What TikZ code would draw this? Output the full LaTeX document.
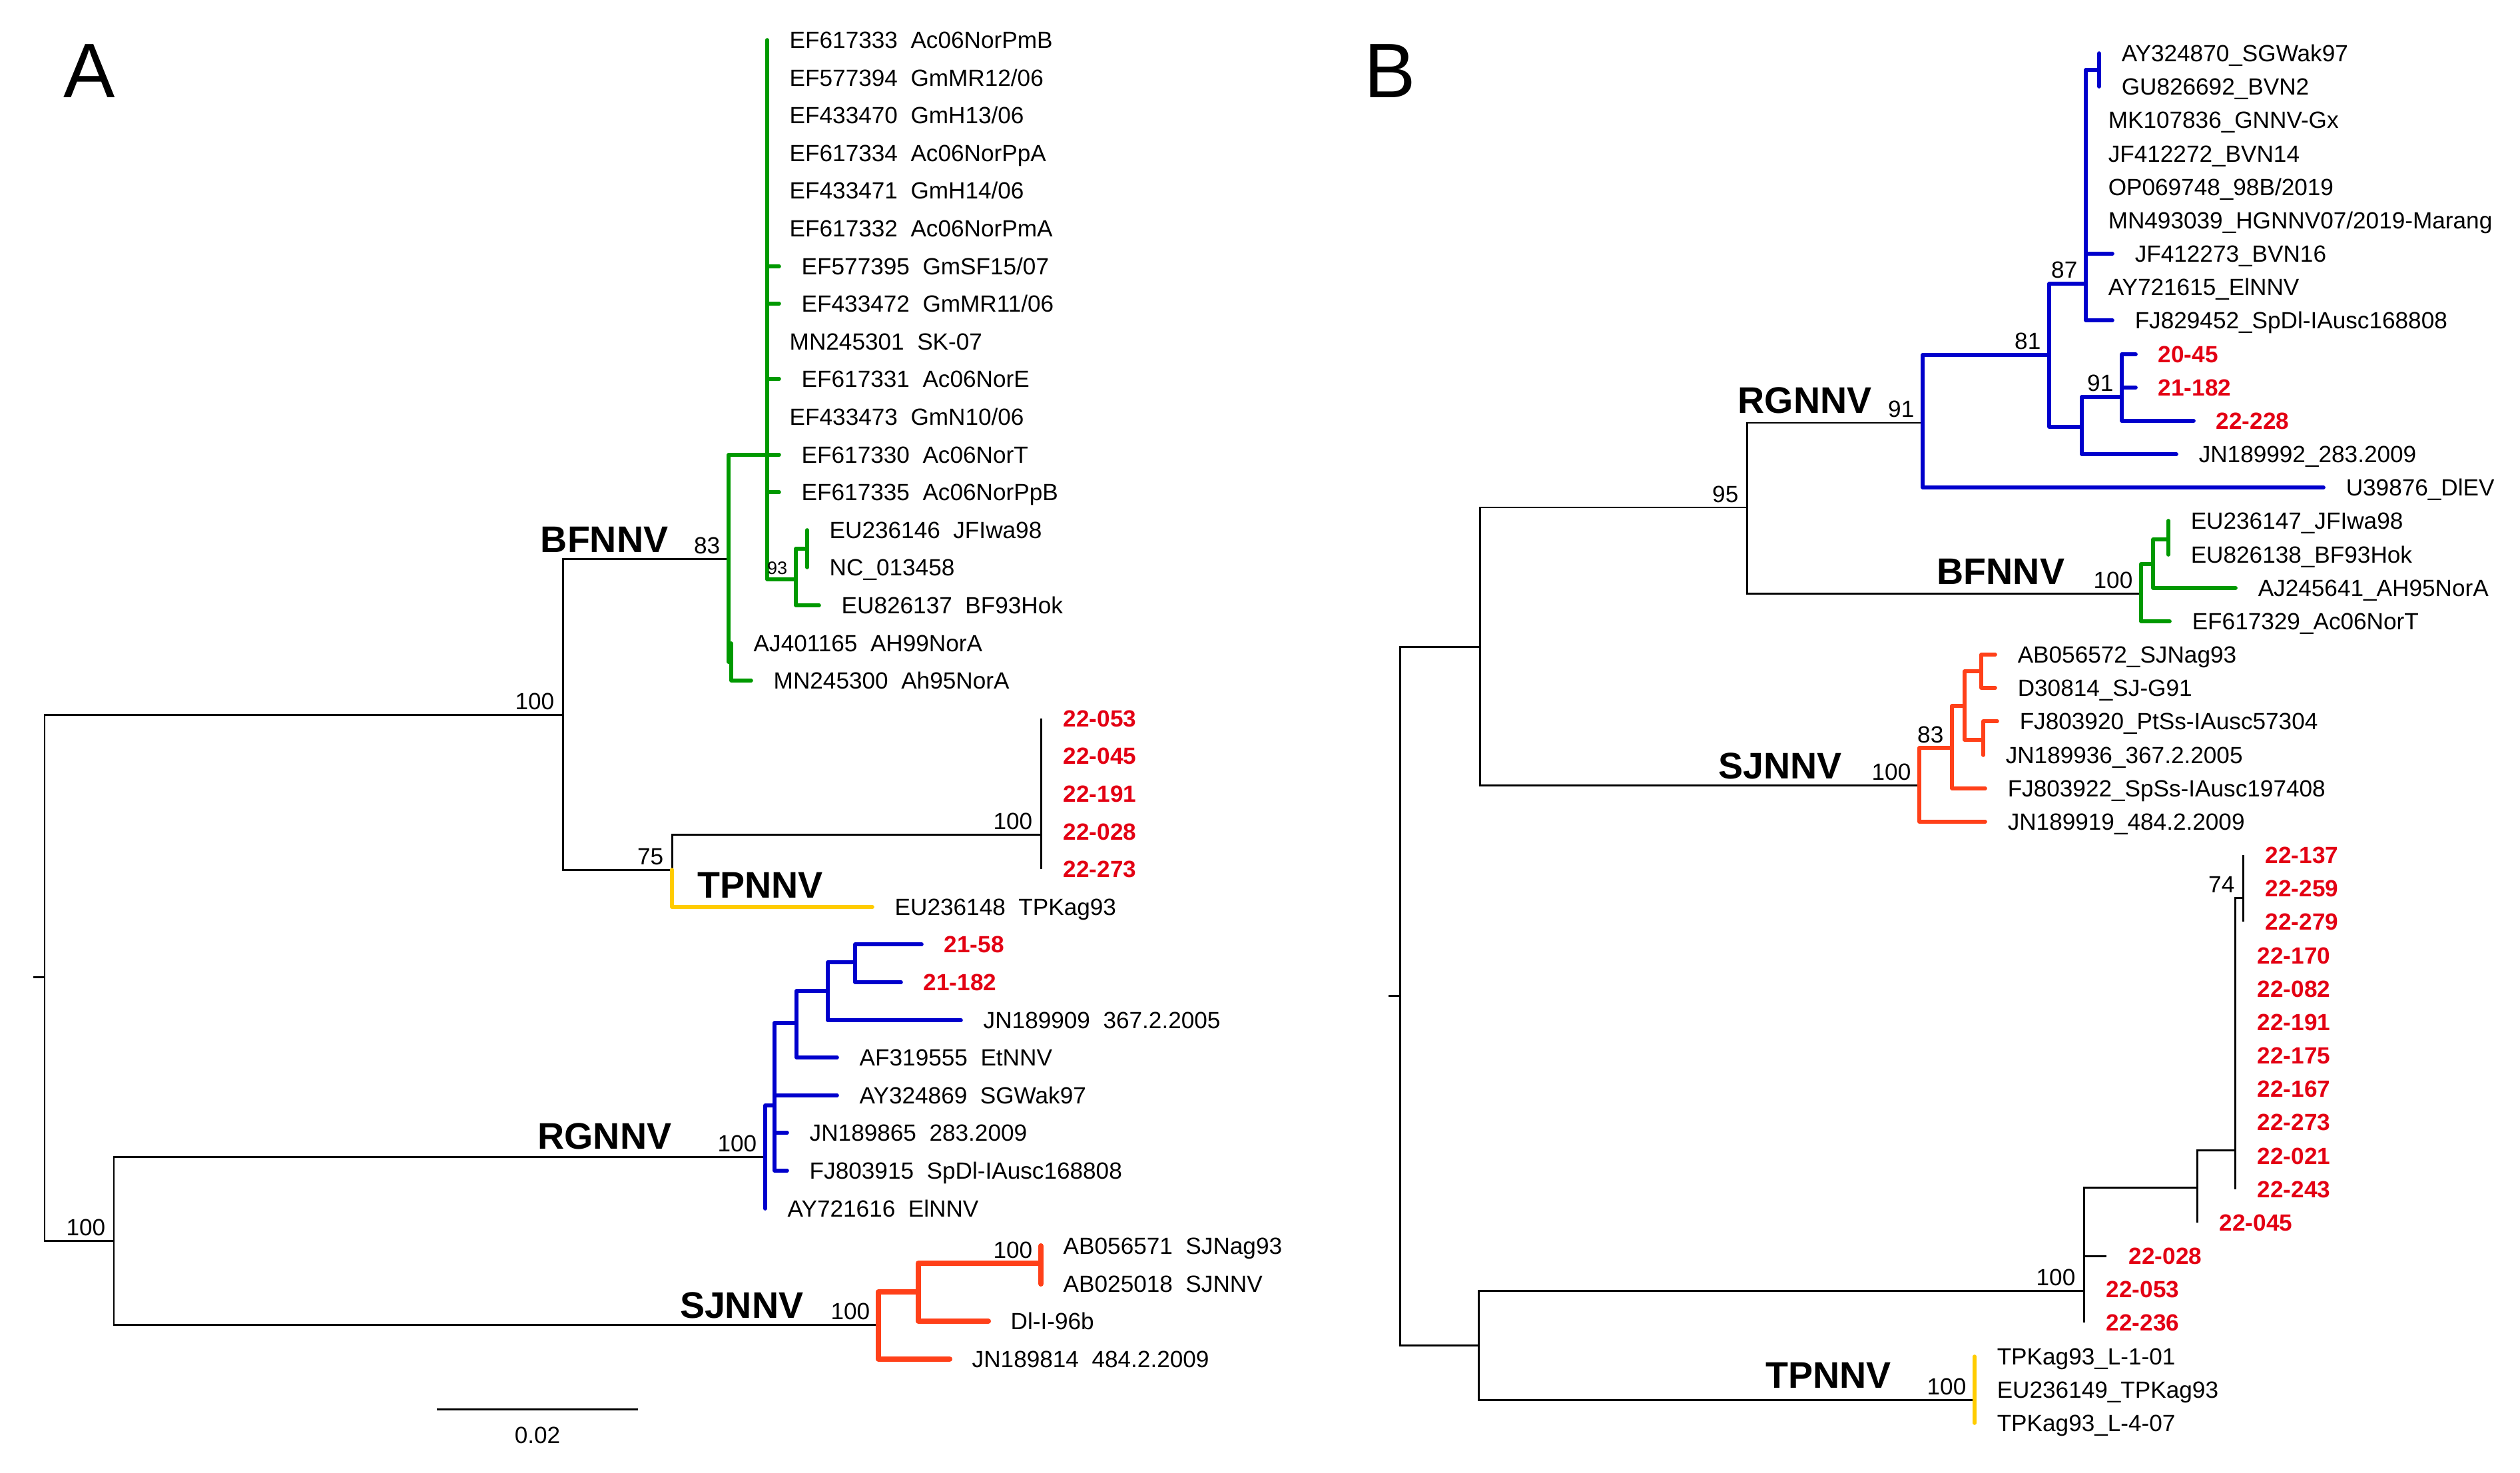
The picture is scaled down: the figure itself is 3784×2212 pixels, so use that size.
\documentclass[tikz,border=0pt]{standalone}
\usepackage{fontspec}
\setmainfont{Liberation Sans}
\usetikzlibrary{positioning}
\definecolor{bfgreen}{RGB}{0,153,0}
\definecolor{rgblue}{RGB}{0,0,204}
\definecolor{sjorange}{RGB}{255,64,25}
\definecolor{tpyellow}{RGB}{255,204,0}
\definecolor{isored}{RGB}{227,0,19}

\begin{document}
\begin{tikzpicture}[
                x = 0.01cm, y = -0.01cm,
                every node/.style = {inner sep = 0pt},
                leaf/.style = {anchor = west, xshift = 0.33cm,
                  text height = 0.25cm, text depth = 0pt,
                  font = \fontsize{10}{12}\selectfont},
                isolate/.style = {leaf, text = isored,
                  font = \fontsize{10}{12}\selectfont\bfseries},
                boot/.style = {anchor = base east, xshift = -0.12cm, yshift = 0.08cm,
                  font = \fontsize{10}{12}\selectfont},
                clade/.style = {anchor = base west,
                  font = \fontsize{15.8}{18}\selectfont\bfseries},
                panel/.style = {anchor = base west, font = \fontsize{33}{36}\selectfont},
                branch/.style = {line width = 0.85pt},
                colbranch/.style = {line width = 1.6pt, line cap = round, line join = round},
                bf/.style = {colbranch, draw = bfgreen},
                rg/.style = {colbranch, draw = rgblue},
                sj/.style = {colbranch, draw = sjorange},
                tp/.style = {colbranch, draw = tpyellow}
                ]
  \useasboundingbox (0,0) rectangle (3784,2212);

  % Panel letters
  \node[panel] (pA) at (95,147)   {A};
  \node[panel] (pB) at (2048,147) {B};

  %%%%%%%%%%%%%%%%%%%%%%%%%%%%%% Tree A
  % inner nodes
  \coordinate (rootAt) at (50,1467);
  \coordinate (rootA) at (67,1467);
  \coordinate (nA1)  at (845,1073);
  \coordinate (nA2)  at (171,1863);
  \coordinate (bfA)  at (1094,839);
  \coordinate (bfA1) at (1152,683);
  \coordinate (bfA2) at (1195,870);
  \coordinate (bfA3) at (1212,824);
  \coordinate (bfA4) at (1098,994);
  \coordinate (tpA)  at (1009,1306);
  \coordinate (tpA1) at (1563,1253);
  \coordinate (rgA)  at (1149,1737);
  \coordinate (rgA1) at (1163,1660);
  \coordinate (rgA2) at (1196,1536);
  \coordinate (rgA3) at (1243,1488);
  \coordinate (rgA4) at (1284,1445);
  \coordinate (sjA)  at (1319,1989);
  \coordinate (sjA1) at (1379,1940);
  \coordinate (sjA2) at (1563,1897);

  % leaves
  \path (1152,60)   coordinate (a0)  node[leaf] (la0)  {EF617333~~Ac06NorPmB};
  \path (1152,117)  coordinate (a1)  node[leaf] (la1)  {EF577394~~GmMR12/06};
  \path (1152,173)  coordinate (a2)  node[leaf] (la2)  {EF433470~~GmH13/06};
  \path (1152,230)  coordinate (a3)  node[leaf] (la3)  {EF617334~~Ac06NorPpA};
  \path (1152,286)  coordinate (a4)  node[leaf] (la4)  {EF433471~~GmH14/06};
  \path (1152,343)  coordinate (a5)  node[leaf] (la5)  {EF617332~~Ac06NorPmA};
  \path (1170,400)  coordinate (a6)  node[leaf] (la6)  {EF577395~~GmSF15/07};
  \path (1170,456)  coordinate (a7)  node[leaf] (la7)  {EF433472~~GmMR11/06};
  \path (1152,513)  coordinate (a8)  node[leaf] (la8)  {MN245301~~SK-07};
  \path (1170,569)  coordinate (a9)  node[leaf] (la9)  {EF617331~~Ac06NorE};
  \path (1152,626)  coordinate (a10) node[leaf] (la10) {EF433473~~GmN10/06};
  \path (1170,683)  coordinate (a11) node[leaf] (la11) {EF617330~~Ac06NorT};
  \path (1170,739)  coordinate (a12) node[leaf] (la12) {EF617335~~Ac06NorPpB};
  \path (1212,796)  coordinate (a13) node[leaf] (la13) {EU236146~~JFIwa98};
  \path (1212,852)  coordinate (a14) node[leaf] (la14) {NC\_013458};
  \path (1230,909)  coordinate (a15) node[leaf] (la15) {EU826137~~BF93Hok};
  \path (1098,966)  coordinate (a16) node[leaf] (la16) {AJ401165~~AH99NorA};
  \path (1128,1022) coordinate (a17) node[leaf] (la17) {MN245300~~Ah95NorA};
  \path (1563,1079) coordinate (a18) node[isolate] (la18) {22-053};
  \path (1563,1135) coordinate (a19) node[isolate] (la19) {22-045};
  \path (1563,1192) coordinate (a20) node[isolate] (la20) {22-191};
  \path (1563,1249) coordinate (a21) node[isolate] (la21) {22-028};
  \path (1563,1305) coordinate (a22) node[isolate] (la22) {22-273};
  \path (1310,1362) coordinate (a23) node[leaf] (la23) {EU236148~~TPKag93};
  \path (1384,1418) coordinate (a24) node[isolate] (la24) {21-58};
  \path (1353,1475) coordinate (a25) node[isolate] (la25) {21-182};
  \path (1443,1532) coordinate (a26) node[leaf] (la26) {JN189909~~367.2.2005};
  \path (1257,1588) coordinate (a27) node[leaf] (la27) {AF319555~~EtNNV};
  \path (1257,1645) coordinate (a28) node[leaf] (la28) {AY324869~~SGWak97};
  \path (1182,1701) coordinate (a29) node[leaf] (la29) {JN189865~~283.2009};
  \path (1182,1758) coordinate (a30) node[leaf] (la30) {FJ803915~~SpDl-IAusc168808};
  \path (1149,1815) coordinate (a31) node[leaf] (la31) {AY721616~~ElNNV};
  \path (1563,1871) coordinate (a32) node[leaf] (la32) {AB056571~~SJNag93};
  \path (1563,1928) coordinate (a33) node[leaf] (la33) {AB025018~~SJNNV};
  \path (1484,1984) coordinate (a34) node[leaf] (la34) {Dl-I-96b};
  \path (1426,2041) coordinate (a35) node[leaf] (la35) {JN189814~~484.2.2009};

  % branches
  \draw[branch] (rootAt) -- (rootA) (rootA) |- (nA1) (rootA) |- (nA2)
    (nA1) |- (bfA) (nA1) |- (tpA) (nA2) |- (rgA) (nA2) |- (sjA) (tpA) |- (tpA1);
  \foreach \i in {18,...,22} \draw[branch] (tpA1) |- (a\i);
  \draw[tp] (tpA) |- (a23);
  \draw[bf] (bfA) |- (bfA1) (bfA) |- (bfA4) (bfA1) |- (bfA2) (bfA2) |- (bfA3)
    (bfA2) |- (a15) (bfA3) |- (a13) (bfA3) |- (a14) (bfA4) |- (a16) (bfA4) |- (a17);
  \foreach \i in {0,...,12} \draw[bf] (bfA1) |- (a\i);
  \draw[rg] (rgA) |- (rgA1) (rgA) |- (a31) (rgA1) |- (rgA2) (rgA2) |- (rgA3)
    (rgA2) |- (a27) (rgA3) |- (rgA4) (rgA3) |- (a26) (rgA4) |- (a24) (rgA4) |- (a25);
  \foreach \i in {28,29,30} \draw[rg] (rgA1) |- (a\i);
  \draw[sj, line width = 2.3pt] (sjA) |- (sjA1) (sjA) |- (a35) (sjA1) |- (sjA2)
    (sjA1) |- (a34) (sjA2) |- (a32) (sjA2) |- (a33);

  % support values
  \node[boot] (bA1) at (nA2)  {100};
  \node[boot] (bA2) at (nA1)  {100};
  \node[boot] (bA3) at (bfA)  {83};
  \node[boot, font = \fontsize{7.7}{9}\selectfont] (bA4) at (bfA2) {93};
  \node[boot] (bA5) at (tpA)  {75};
  \node[boot] (bA6) at (tpA1) {100};
  \node[boot] (bA7) at (rgA)  {100};
  \node[boot] (bA8) at (sjA)  {100};
  \node[boot] (bA9) at (sjA2) {100};

  % genotypes
  \node[clade, anchor = base east] (cA1) at (1004,829)  {BFNNV};
  \node[clade] (cA2) at (1047,1348) {TPNNV};
  \node[clade, anchor = base east] (cA3) at (1009,1725) {RGNNV};
  \node[clade, anchor = base east] (cA4) at (1207,1979) {SJNNV};

  % scale bar
  \coordinate (sbL) at (656,2116);
  \coordinate (sbR) at (958,2116);
  \draw[branch] (sbL) -- (sbR);
  \node[anchor = base, font = \fontsize{10}{12}\selectfont] (sbT) at (807,2167) {0.02};

  %%%%%%%%%%%%%%%%%%%%%%%%%%%%%% Tree B
  % inner nodes
  \coordinate (rootBt) at (2085,1495);
  \coordinate (rootB) at (2102,1495);
  \coordinate (nB1)  at (2222,971);
  \coordinate (nB2)  at (2220,2020);
  \coordinate (n95)  at (2623,762);
  \coordinate (rgB)  at (2887,635);
  \coordinate (rgB1) at (3077,533);
  \coordinate (rgB2) at (3132,426);
  \coordinate (rgB3) at (3152,105);
  \coordinate (rgB4) at (3126,641);
  \coordinate (rgB5) at (3186,596);
  \coordinate (bfB)  at (3215,891);
  \coordinate (bfB1) at (3233,847);
  \coordinate (bfB2) at (3256,810);
  \coordinate (sjB)  at (2882,1179);
  \coordinate (sjB1) at (2931,1123);
  \coordinate (sjB2) at (2950,1060);
  \coordinate (sjB3) at (2975,1008);
  \coordinate (sjB4) at (2978,1111);
  \coordinate (rdB)  at (3129,1938);
  \coordinate (rdB1) at (3299,1783);
  \coordinate (rdB2) at (3356,1727);
  \coordinate (rdB3) at (3368,1348);
  \coordinate (tpB)  at (2965,2102);

  % leaves
  \path (3152,80)   coordinate (b0)  node[leaf] (lb0)  {AY324870\_SGWak97};
  \path (3152,130)  coordinate (b1)  node[leaf] (lb1)  {GU826692\_BVN2};
  \path (3132,180)  coordinate (b2)  node[leaf] (lb2)  {MK107836\_GNNV-Gx};
  \path (3132,231)  coordinate (b3)  node[leaf] (lb3)  {JF412272\_BVN14};
  \path (3132,281)  coordinate (b4)  node[leaf] (lb4)  {OP069748\_98B/2019};
  \path (3132,331)  coordinate (b5)  node[leaf] (lb5)  {MN493039\_HGNNV07/2019-Marang};
  \path (3172,381)  coordinate (b6)  node[leaf] (lb6)  {JF412273\_BVN16};
  \path (3132,431)  coordinate (b7)  node[leaf] (lb7)  {AY721615\_ElNNV};
  \path (3172,481)  coordinate (b8)  node[leaf] (lb8)  {FJ829452\_SpDl-IAusc168808};
  \path (3207,532)  coordinate (b9)  node[isolate] (lb9)  {20-45};
  \path (3207,582)  coordinate (b10) node[isolate] (lb10) {21-182};
  \path (3294,632)  coordinate (b11) node[isolate] (lb11) {22-228};
  \path (3268,682)  coordinate (b12) node[leaf] (lb12) {JN189992\_283.2009};
  \path (3489,732)  coordinate (b13) node[leaf] (lb13) {U39876\_DlEV};
  \path (3256,782)  coordinate (b14) node[leaf] (lb14) {EU236147\_JFIwa98};
  \path (3256,833)  coordinate (b15) node[leaf] (lb15) {EU826138\_BF93Hok};
  \path (3357,883)  coordinate (b16) node[leaf] (lb16) {AJ245641\_AH95NorA};
  \path (3258,933)  coordinate (b17) node[leaf] (lb17) {EF617329\_Ac06NorT};
  \path (2996,983)  coordinate (b18) node[leaf] (lb18) {AB056572\_SJNag93};
  \path (2996,1033) coordinate (b19) node[leaf] (lb19) {D30814\_SJ-G91};
  \path (2999,1083) coordinate (b20) node[leaf] (lb20) {FJ803920\_PtSs-IAusc57304};
  \path (2978,1134) coordinate (b21) node[leaf] (lb21) {JN189936\_367.2.2005};
  \path (2981,1184) coordinate (b22) node[leaf] (lb22) {FJ803922\_SpSs-IAusc197408};
  \path (2981,1234) coordinate (b23) node[leaf] (lb23) {JN189919\_484.2.2009};
  \path (3368,1284) coordinate (b24) node[isolate] (lb24) {22-137};
  \path (3368,1334) coordinate (b25) node[isolate] (lb25) {22-259};
  \path (3368,1384) coordinate (b26) node[isolate] (lb26) {22-279};
  \path (3356,1435) coordinate (b27) node[isolate] (lb27) {22-170};
  \path (3356,1485) coordinate (b28) node[isolate] (lb28) {22-082};
  \path (3356,1535) coordinate (b29) node[isolate] (lb29) {22-191};
  \path (3356,1585) coordinate (b30) node[isolate] (lb30) {22-175};
  \path (3356,1635) coordinate (b31) node[isolate] (lb31) {22-167};
  \path (3356,1685) coordinate (b32) node[isolate] (lb32) {22-273};
  \path (3356,1736) coordinate (b33) node[isolate] (lb33) {22-021};
  \path (3356,1786) coordinate (b34) node[isolate] (lb34) {22-243};
  \path (3299,1836) coordinate (b35) node[isolate] (lb35) {22-045};
  \path (3163,1886) coordinate (b36) node[isolate] (lb36) {22-028};
  \path (3129,1936) coordinate (b37) node[isolate] (lb37) {22-053};
  \path (3129,1986) coordinate (b38) node[isolate] (lb38) {22-236};
  \path (2965,2037) coordinate (b39) node[leaf] (lb39) {TPKag93\_L-1-01};
  \path (2965,2087) coordinate (b40) node[leaf] (lb40) {EU236149\_TPKag93};
  \path (2965,2137) coordinate (b41) node[leaf] (lb41) {TPKag93\_L-4-07};

  % branches
  \draw[branch] (rootBt) -- (rootB) (rootB) |- (nB1) (rootB) |- (nB2)
    (nB1) |- (n95) (nB1) |- (sjB) (n95) |- (rgB) (n95) |- (bfB)
    (nB2) |- (rdB) (nB2) |- (tpB) (rdB) |- (rdB1) (rdB1) |- (rdB2)
    (rdB1) |- (b35) (rdB2) |- (rdB3);
  \foreach \i in {36,37,38} \draw[branch] (rdB) |- (b\i);
  \foreach \i in {27,...,34} \draw[branch] (rdB2) |- (b\i);
  \foreach \i in {24,25,26} \draw[branch] (rdB3) |- (b\i);
  \draw[rg] (rgB) |- (rgB1) (rgB) |- (b13) (rgB1) |- (rgB2) (rgB1) |- (rgB4)
    (rgB2) |- (rgB3) (rgB3) |- (b0) (rgB3) |- (b1) (rgB4) |- (rgB5) (rgB4) |- (b12);
  \foreach \i in {2,...,8} \draw[rg] (rgB2) |- (b\i);
  \foreach \i in {9,10,11} \draw[rg] (rgB5) |- (b\i);
  \draw[bf] (bfB) |- (bfB1) (bfB) |- (b17) (bfB1) |- (bfB2) (bfB1) |- (b16)
    (bfB2) |- (b14) (bfB2) |- (b15);
  \draw[sj] (sjB) |- (sjB1) (sjB) |- (b23) (sjB1) |- (sjB2) (sjB1) |- (b22)
    (sjB2) |- (sjB3) (sjB2) |- (sjB4) (sjB3) |- (b18) (sjB3) |- (b19)
    (sjB4) |- (b20) (sjB4) |- (b21);
  \foreach \i in {39,40,41} \draw[tp] (tpB) |- (b\i);

  % support values
  \node[boot] (bB1)  at (n95)  {95};
  \node[boot] (bB2)  at (rgB)  {91};
  \node[boot] (bB3)  at (rgB1) {81};
  \node[boot] (bB4)  at (rgB2) {87};
  \node[boot] (bB5)  at (rgB5) {91};
  \node[boot] (bB6)  at (bfB)  {100};
  \node[boot] (bB7)  at (sjB)  {100};
  \node[boot] (bB8)  at (sjB1) {83};
  \node[boot] (bB9)  at (rdB)  {100};
  \node[boot] (bB10) at (rdB3) {74};
  \node[boot] (bB11) at (tpB)  {100};

  % genotypes
  \node[clade] (cB1) at (2609,620)  {RGNNV};
  \node[clade] (cB2) at (2908,877)  {BFNNV};
  \node[clade] (cB3) at (2580,1169) {SJNNV};
  \node[clade] (cB4) at (2651,2084) {TPNNV};
\end{tikzpicture}
\end{document}
